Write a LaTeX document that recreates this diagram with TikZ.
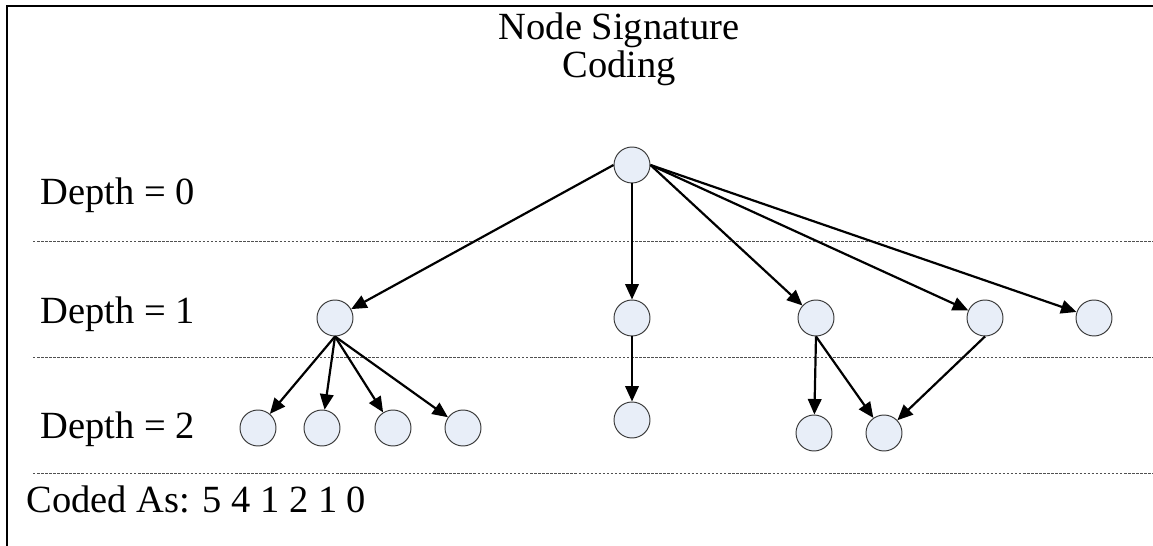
\documentclass[tikz,border=0pt]{standalone}
\usepackage{fontspec}
\setmainfont{Liberation Serif}
\usetikzlibrary{arrows.meta, positioning}
\definecolor{nodeFill}{HTML}{E8EEF8}
\definecolor{nodeEdge}{HTML}{3A3A3A}
\definecolor{ruleGrey}{HTML}{505050}
\def\rowZero{165}
\def\rowOne{318}
\def\rowTwoA{428}
\def\rowTwoB{420}
\def\rowTwoC{433}
\def\ruleStart{33}
\def\ruleEnd{1153}

\begin{document}
\begin{tikzpicture}[
    x=0.02cm, y=-0.02cm,
    every node/.style={font=\fontsize{21.9}{19.9}\selectfont},
    tnode/.style={circle, draw=nodeEdge, line width=0.55pt, fill=nodeFill,
                  minimum size=0.72cm, inner sep=0pt},
    link/.style={-{Triangle[length=3.1mm,width=2.7mm]}, line width=1.25pt},
    level/.style={draw=ruleGrey, line width=0.5pt,
                  dash pattern=on 1.4pt off 0.9pt},
    depthtext/.style={anchor=base west, inner sep=0pt},
    ]
\useasboundingbox (0,0) rectangle (1153,546);

% Frame (top and left edges)
\draw[line width=1.1pt] (7,546) -- (7,6) -- (1153,6);

% Title (base anchor sits on the last line)
\node[anchor=base, align=center, inner sep=0pt] (title) at (619,78)
  {Node Signature\\[1pt]Coding};

% ====================================================================
% Depth rules and labels
% ====================================================================
\foreach \y in {241, 357, 473}{
    \draw[level] (\ruleStart,\y) -- (\ruleEnd,\y);
}
\node[depthtext] (lvlZero) at (40,205) {Depth = 0};
\node[depthtext] (lvlOne)  at (40,324) {Depth = 1};
\node[depthtext] (lvlTwo)  at (40,439) {Depth = 2};
\node[depthtext] (coded)   at (26,513) {Coded As: 5 4 1 2 1 0};

% ====================================================================
% Tree nodes
% ====================================================================
\node[tnode] (root) at (632,\rowZero) {};

\node[tnode] (oneA) at (335,\rowOne) {};
\node[tnode] (oneB) at (632,\rowOne) {};
\node[tnode] (oneC) at (816,\rowOne) {};
\node[tnode] (oneD) at (985,\rowOne) {};
\node[tnode] (oneE) at (1094,\rowOne) {};

\node[tnode] (twoA) at (258,\rowTwoA) {};
\node[tnode] (twoB) at (322,\rowTwoA) {};
\node[tnode] (twoC) at (393,\rowTwoA) {};
\node[tnode] (twoD) at (463,\rowTwoA) {};
\node[tnode] (twoE) at (632,\rowTwoB) {};
\node[tnode] (twoF) at (814,\rowTwoC) {};
\node[tnode] (twoG) at (884,\rowTwoC) {};

% Edges: root leaves from its sides, depth-1 nodes from their bottoms
\draw[link] (root.west) -- (oneA);
\draw[link] (root.south) -- (oneB);
\foreach \t in {oneC, oneD, oneE}{
    \draw[link] (root.east) -- (\t);
}
\foreach \t in {twoA, twoB, twoC, twoD}{
    \draw[link] (oneA.south) -- (\t);
}
\draw[link] (oneB.south) -- (twoE);
\draw[link] (oneC.south) -- (twoF);
\draw[link] (oneC.south) -- (twoG);
\draw[link] (oneD.south) -- (twoG);

\end{tikzpicture}
\end{document}
